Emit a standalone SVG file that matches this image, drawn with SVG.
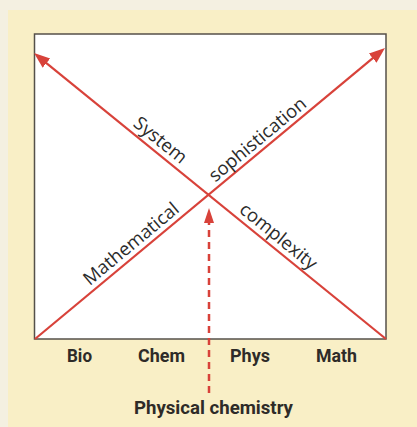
<svg xmlns="http://www.w3.org/2000/svg" width="417" height="427" viewBox="0 0 417 427">
  <defs>
    <style>
      .ax { stroke: #d8423a; stroke-width: 2.2; fill: none; }
      .dash { stroke: #d8423a; stroke-width: 2.5; stroke-dasharray: 7 5; fill: none; }
      .lab { font-family: "Open Sans", "Liberation Sans", sans-serif; font-size: 18.5px; fill: #2b2b2b; text-anchor: middle; }
      .sub { font-family: Roboto, "Liberation Sans", sans-serif; font-weight: bold; font-size: 17.5px; fill: #2e2b28; }
    </style>
    <marker id="ah" markerUnits="userSpaceOnUse" markerWidth="18" markerHeight="14" refX="6" refY="6" orient="auto">
      <path d="M0,0 L16,6 L0,12 Z" fill="#d8423a"/>
    </marker>
    <marker id="ahd" markerUnits="userSpaceOnUse" markerWidth="16" markerHeight="12" refX="4" refY="5" orient="auto">
      <path d="M0,0 L15,5 L0,10 Z" fill="#d8423a"/>
    </marker>
  </defs>

  <rect x="0" y="0" width="417" height="427" fill="#f4f0e1"/>
  <rect x="8" y="10" width="409" height="417" fill="#f9efc6"/>

  <g id="frame">
    <rect x="34.5" y="34" width="351.5" height="305" fill="#ffffff" stroke="#55504a" stroke-width="1.5"/>
  </g>

  <g id="connectors">
    <line class="ax" x1="35" y1="339" x2="377.3" y2="54.4" marker-end="url(#ah)"/>
    <line class="ax" x1="386" y1="339" x2="41.8" y2="59.3" marker-end="url(#ah)"/>
    <line class="dash" x1="209" y1="393" x2="209" y2="219" marker-end="url(#ahd)"/>
  </g>

  <g id="label-system">
    <text class="lab" transform="translate(156.5,145) rotate(39.1)">System</text>
  </g>
  <g id="label-sophistication">
    <text class="lab" transform="translate(261.5,144.2) rotate(-39.74)">sophistication</text>
  </g>
  <g id="label-mathematical">
    <text class="lab" transform="translate(135,248.6) rotate(-39.74)">Mathematical</text>
  </g>
  <g id="label-complexity">
    <text class="lab" transform="translate(274.5,241) rotate(39.1)">complexity</text>
  </g>

  <g id="bio"><text class="sub" x="67" y="362" textLength="25" lengthAdjust="spacingAndGlyphs">Bio</text></g>
  <g id="chem"><text class="sub" x="138" y="362" textLength="47" lengthAdjust="spacingAndGlyphs">Chem</text></g>
  <g id="phys"><text class="sub" x="230" y="362" textLength="40" lengthAdjust="spacingAndGlyphs">Phys</text></g>
  <g id="math"><text class="sub" x="316" y="362" textLength="41" lengthAdjust="spacingAndGlyphs">Math</text></g>
  <g id="physical-chemistry"><text class="sub" x="134" y="414" textLength="159" lengthAdjust="spacingAndGlyphs">Physical chemistry</text></g>
</svg>
